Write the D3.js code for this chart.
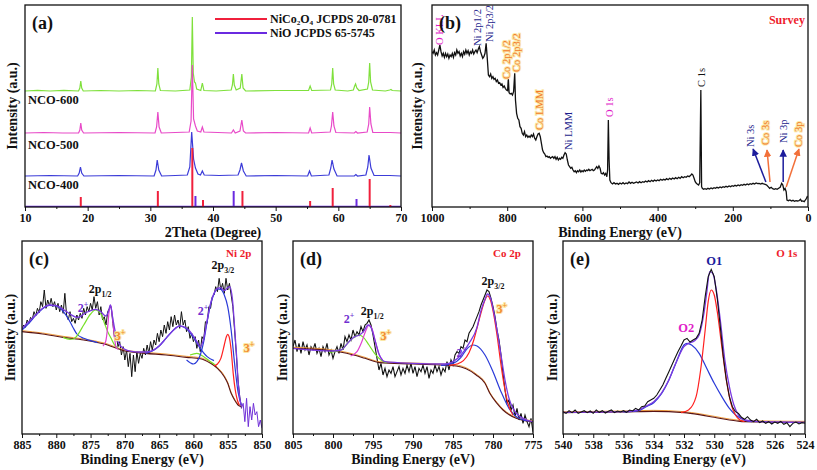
<!DOCTYPE html>
<html><head><meta charset="utf-8">
<script src="https://cdn.jsdelivr.net/npm/d3@7"></script>
<style>body{margin:0;background:#fff}</style>
</head><body>
<script>
// ---------------- DATA ----------------
// (a) XRD
const xrdTicks = [10,20,30,40,50,60,70];
const xrdMinor = [15,25,35,45,55,65];
const xrdSamples = ["NCO-600","NCO-500","NCO-400"];
const xrdOffsets = [116, 74, 31];
const xrdColors = ["#7fe03c","#e84ac8","#3c3cd8"];
const xrd600 = [[10,0],[12,0.6],[14,0],[16.2,0.6],[18.55,0],[18.75,3],[18.9,10],[19.05,3],[19.3,0],[22,0.5],[25,0],[28,0.5],[30.8,0],[31.05,7],[31.2,23],[31.35,7],[31.6,0.5],[34,0],[36.3,1],[36.55,14],[36.7,74],[36.85,18],[37.05,9],[37.2,8],[37.4,2],[38.05,0.5],[38.3,8],[38.55,0.5],[40.5,0],[42.9,1],[43.1,6],[43.25,17],[43.4,6],[43.7,1],[44.35,3],[44.6,17],[44.8,3],[45.2,0],[50,0.5],[55.25,0.5],[55.5,5],[55.75,0.5],[58.75,1],[58.95,7],[59.1,23],[59.25,7],[59.5,1],[61.5,0],[62.4,1],[62.6,5],[62.75,7],[62.95,3],[63.3,0.5],[64.65,2],[64.85,9],[65.0,28],[65.15,9],[65.45,1],[67.5,0],[68.2,1],[68.4,1.5],[68.6,0.5],[70,0]];
const xrd500 = [[10,0],[13,0.5],[16,0],[18.55,0],[18.75,3],[18.9,10],[19.05,3],[19.35,0],[25,0.5],[30.75,0],[31.0,6],[31.2,21],[31.4,6],[31.75,0],[34,0.5],[36.2,1],[36.5,12],[36.7,68],[36.9,14],[37.2,7],[37.5,2],[38.05,1],[38.3,6],[38.55,1],[42.95,0],[43.25,3],[43.55,0],[44.3,2],[44.6,13],[44.85,2],[45.2,0],[50,0.5],[55.25,0],[55.5,5],[55.75,0],[58.7,1],[58.9,7],[59.1,21],[59.3,7],[59.6,0.5],[62.55,0],[62.8,1.5],[63.05,0],[64.6,1],[64.85,9],[65.0,26],[65.2,9],[65.5,0.5],[68.3,0.5],[70,0]];
const xrd400 = [[10,0],[14,0.5],[18.4,0],[18.65,3],[18.85,9],[19.05,3],[19.4,0],[25,0.5],[30.6,0],[30.9,6],[31.1,16],[31.35,6],[31.8,0],[34,0.5],[35.9,1],[36.3,9],[36.6,44],[36.9,17],[37.2,8],[37.6,2],[38.0,1],[38.3,5],[38.6,1],[41,0.5],[44.0,1],[44.3,6],[44.55,13],[44.85,5],[45.3,0],[50,0.5],[55.1,0],[55.4,5],[55.7,0],[58.5,1],[58.8,8],[59.0,16],[59.3,7],[59.8,0],[62.55,0],[62.8,1.5],[63.05,0],[64.4,1],[64.7,9],[64.9,21],[65.2,8],[65.7,0.5],[68.2,0.5],[70,0]];
const refNiCo2O4 = [[18.9,10],[31.2,16],[36.7,59],[38.4,7],[44.7,16],[55.5,6],[59.1,19],[65.0,28],[68.3,2]];
const refNiO = [[37.2,11],[43.3,16],[62.9,8]];
const legendNames = ["NiCo₂O₄ JCPDS 20-0781", "NiO JCPDS 65-5745"];

// (b) survey
const surveyTicks = [1000,800,600,400,200,0];
const surveyMinor = [900,700,500,300,100];
const survey = [[1000,466],[997,461],[994,471],[991,456],[988,463],[985,456],[982,471],[979,486],[976,466],[973,453],[970,461],[967,449],[964,461],[961,451],[958,459],[955,446],[952,456],[949,451],[946,461],[943,449],[940,463],[937,456],[934,471],[931,461],[928,466],[925,453],[922,461],[919,451],[916,466],[913,458],[910,471],[907,461],[904,469],[901,456],[898,466],[895,461],[892,471],[889,459],[886,466],[883,471],[880,463],[877,473],[874,481],[871,466],[868,456],[865,446],[862,451],[859,461],[856,491],[853,446],[850,396],[847,391],[844,399],[841,386],[838,391],[835,383],[832,386],[829,376],[826,381],[823,371],[820,373],[817,366],[814,369],[811,359],[808,363],[805,356],[802,351],[799,349],[797,386],[795,343],[792,339],[789,341],[786,336],[783,346],[780,401],[778,321],[775,281],[772,266],[769,261],[766,241],[763,236],[760,221],[757,216],[754,226],[751,211],[748,216],[745,209],[742,213],[739,209],[736,216],[733,211],[730,219],[727,206],[724,201],[721,211],[718,219],[715,221],[712,211],[709,191],[706,171],[703,163],[700,159],[697,151],[694,153],[691,149],[688,151],[685,146],[682,149],[679,151],[676,146],[673,151],[670,143],[667,149],[664,141],[661,146],[658,143],[655,149],[652,146],[649,156],[646,163],[643,159],[640,141],[637,126],[634,121],[631,116],[628,119],[625,111],[622,106],[619,109],[616,103],[613,109],[610,106],[607,111],[604,105],[601,109],[598,106],[595,111],[592,107],[589,111],[586,109],[583,113],[580,109],[577,111],[574,113],[571,109],[568,111],[565,116],[562,121],[559,116],[556,123],[553,116],[550,101],[547,99],[544,103],[541,96],[538,101],[535,91],[533,111],[531,261],[529,141],[527,81],[524,73],[520,69],[516,73],[512,69],[508,71],[504,68],[500,72],[496,69],[492,73],[488,69],[484,72],[480,70],[476,75],[472,71],[468,74],[464,71],[460,73],[456,75],[452,72],[448,76],[444,73],[440,76],[436,74],[432,78],[428,75],[424,79],[420,76],[416,80],[412,77],[408,81],[404,78],[400,81],[396,79],[392,83],[388,80],[384,83],[380,81],[376,85],[372,82],[368,86],[364,83],[360,87],[356,84],[352,88],[348,85],[344,89],[340,86],[336,91],[332,88],[328,91],[324,89],[320,93],[316,91],[312,95],[309,99],[306,96],[303,86],[300,76],[297,71],[294,68],[291,66],[288,73],[285,351],[283,61],[281,56],[278,53],[274,55],[270,53],[266,56],[262,54],[258,57],[254,55],[250,58],[246,56],[242,59],[238,57],[234,60],[230,58],[226,61],[222,59],[218,62],[214,60],[210,63],[206,61],[202,64],[198,62],[194,65],[190,63],[186,66],[182,64],[178,67],[174,65],[170,68],[166,66],[162,69],[158,67],[154,70],[150,68],[146,71],[142,69],[138,72],[134,70],[130,71],[126,69],[122,71],[118,69],[114,68],[110,66],[106,61],[102,56],[98,59],[94,55],[90,53],[86,55],[82,53],[78,56],[74,59],[70,71],[67,66],[64,51],[61,56],[58,46],[56,21],[52,19],[48,21],[44,18],[40,20],[36,17],[32,19],[28,18],[24,19],[20,23],[17,17],[14,18],[10,16],[7,21],[4,26],[2,31],[0,29]];
const surveyLabels = [
  {t:"O KLL", at:[979,486], c:"#e01cc8"},
  {t:"Ni 2p1/2", at:[878,483], c:"#1c1c8c"},
  {t:"Ni 2p3/2", at:[848,495], c:"#1c1c8c"},
  {t:"Co 2p1/2", at:[801,384], c:"#f27a2a", glow:true},
  {t:"Co 2p3/2", at:[774,405], c:"#f27a2a", glow:true},
  {t:"Co LMM", at:[713,231], c:"#f27a2a", glow:true},
  {t:"Ni LMM", at:[638,171], c:"#1c1c8c"},
  {t:"O 1s", at:[529,270], c:"#e01cc8"},
  {t:"C 1s", at:[282,360], c:"#111"},
  {t:"Ni 3s", at:[152,180], c:"#1c1c8c"},
  {t:"Co 3s", at:[112,186], c:"#f27a2a", glow:true},
  {t:"Ni 3p", at:[66,192], c:"#1c1c8c"},
  {t:"Co 3p", at:[24,180], c:"#f27a2a", glow:true}
];
const surveyArrows = [
  {from:[112,75], to:[146,174], c:"#1c1c9c"},
  {from:[101,75], to:[109,171], c:"#f2703a"},
  {from:[66,75], to:[66,171], c:"#1c1c9c"},
  {from:[58,60], to:[24,174], c:"#f2703a"}
];

// (c) Ni 2p
const niTicks = [885,880,875,870,865,860,855,850];
const niMinor = [882.5,877.5,872.5,867.5,862.5,857.5,852.5];
const niEnergy = d3.range(885, 849.99, -0.25); // measurement grid, eV
const niCounts = [314,327,320,342,332,350,344,367,354,377,364,397,382,432,377,402,384,407,382,397,
 372,392,367,387,362,422,357,342,367,337,347,332,357,342,362,347,377,357,382,367,
 392,372,412,377,397,357,382,342,352,327,367,377,382,332,287,297,262,277,237,262,
 222,252,202,242,172,237,187,247,212,242,227,257,237,267,242,277,252,282,267,302,
 277,312,292,327,302,337,312,352,322,357,327,342,317,367,327,342,307,322,287,302,
 277,292,257,282,247,292,282,337,332,382,377,412,417,442,427,467,432,452,422,467,
 432,452,417,382,312,242,162,112,77,92,37,107,22,82,42,92,57,67,22,42,
 17];
const niEnvelope = [[885,317],[884,337],[883,357],[882,377],[881,387],[880,385],[879,374],[878,360],[877,350],[876.5,352],[876,360],[875,370],[874.3,374],[873.5,367],[872.8,354],[872.4,367],[872.1,387],[871.8,352],[871.5,317],[871,277],[870,254],[869,248],[868,246],[867,246],[866,250],[865,264],[864,287],[863,310],[862,324],[861,317],[860,294],[859.5,277],[859,262],[858.5,287],[858,342],[857.5,392],[857,422],[856.5,437],[856,439],[855.5,430],[855,439],[854.7,442],[854.3,402],[854,322],[853.7,232],[853.5,162],[853.2,102],[853,82]];
const niBackground = [[885,307],[882,300],[879,290],[876,282],[873,270],[870,249],[867,242],[864,237],[861,230],[859,226],[857.5,212],[856.5,197],[855.5,172],[855,152],[854.5,122],[854,102],[853.5,87],[853,82]];
const niComponents = [
  {c:"#2a3ad8", pts:[[885,312],[884,332],[883,356],[882,376],[881,386],[880,384],[879,368],[878,337],[877.5,317],[877,300],[876,287],[875,280],[874,274]]},
  {c:"#78e028", pts:[[879,290],[878,284],[877.5,285],[877,294],[876,327],[875,360],[874.3,372],[873.5,360],[873,334],[872.5,307],[872,287],[871.5,267],[871,257]]},
  {c:"#e040d0", pts:[[873.2,264],[872.8,277],[872.5,322],[872.3,367],[872.1,387],[871.9,367],[871.6,307],[871.3,262],[871,254]]},
  {c:"#2a3ad8", pts:[[867,242],[866,249],[865,264],[864,287],[863,310],[862,324],[861,316],[860,290],[859,257],[858,232],[857,220]]},
  {c:"#78e028", pts:[[860.5,237],[859.5,242],[858.5,232],[857.5,217],[856.8,207]]},
  {c:"#2a3ad8", pts:[[861,222],[860,210],[859.5,217],[859,237],[858.5,277],[858,337],[857.5,389],[857,420],[856.5,435],[856,434],[855.5,417],[855,382],[854.5,312],[854,212],[853.5,127],[853,87]]},
  {c:"#ff2020", pts:[[857,204],[856.5,210],[856,227],[855.5,267],[855.2,292],[855,299],[854.8,292],[854.5,252],[854.2,182],[853.9,132],[853.6,102],[853.3,87]]}
];
const niLabels = [
  {s:[["2p"],["1/2","sub"]], at:[873.6,423], c:"#111"},
  {s:[["2p"],["3/2","sub"]], at:[855.7,495], c:"#111"},
  {s:[["Ni 2p"]], at:[853.4,531], c:"#ee1c2c", size:11},
  {s:[["2"],["+","sup"]], at:[876.1,366], c:"#7030d0"},
  {s:[["3"],["+","sup"]], at:[870.7,282], c:"#f28a30", glow:true},
  {s:[["2"],["+","sup"]], at:[858.6,357], c:"#7030d0"},
  {s:[["3"],["+","sup"]], at:[851.9,246], c:"#f28a30", glow:true}
];

// (d) Co 2p
const coTicks = [805,800,795,790,785,780,775];
const coMinor = [802.5,797.5,792.5,787.5,782.5,777.5];
const coEnergy = d3.range(805, 774.99, -0.25); // measurement grid, eV
const coCounts = [262,282,247,272,242,277,252,267,237,262,252,272,242,257,232,262,247,272,237,252,
 227,247,262,242,272,252,292,277,297,282,312,292,307,297,322,307,327,332,342,327,
 297,262,227,192,212,177,197,172,192,182,202,172,187,202,177,197,182,207,187,212,
 182,202,172,197,187,207,182,202,167,192,182,207,187,202,177,197,187,217,192,222,
 207,237,247,242,262,257,282,277,302,312,322,337,352,367,387,402,417,432,427,407,
 382,352,312,282,237,182,132,92,102,72,87,52,77,42,62,32,57,37,22,47,
 7];
const coEnvelope = [[805,257],[800,249],[799,252],[798,277],[797.3,292],[796.7,297],[796.2,307],[795.6,327],[795.2,317],[794.7,277],[794.2,237],[793.5,217],[790,212],[786,210],[785,217],[784,237],[783,272],[782,320],[781.5,370],[781,404],[780.7,420],[780.3,407],[780,377],[779.5,312],[779,237],[778.5,162],[778,107],[777.5,77],[777,60],[776,44],[775,37]];
const coBackground = [[805,257],[800,249],[798.3,242],[796,227],[794.2,214],[790,210],[784.6,204],[782.1,177],[781,152],[780.4,122],[779.5,92],[778.75,72],[777.1,47],[776,40],[775,37]];
const coComponents = [
  {c:"#78e028", pts:[[800.5,245],[799,252],[798,277],[797.3,292],[796.8,297],[796.2,290],[795.5,267],[794.8,242],[794,222],[793.3,214]]},
  {c:"#e040d0", pts:[[797.8,234],[797,247],[796.4,277],[795.9,310],[795.5,327],[795.1,314],[794.7,277],[794.3,242],[793.8,222]]},
  {c:"#2a3ad8", pts:[[786.5,206],[785,212],[784,230],[783.2,257],[782.5,267],[782,264],[781,237],[780,187],[779,127],[778,77],[777,50],[776,41],[775.5,39]]},
  {c:"#ff2020", pts:[[785.5,206],[784.5,210],[783.7,220],[783,244],[782.4,282],[781.9,327],[781.4,372],[781,402],[780.7,414],[780.3,400],[780,370],[779.5,297],[779,207],[778.5,132],[778,82],[777.5,57]]}
];
const coLabels = [
  {s:[["Co 2p"]], at:[778.25,531], c:"#ee1c2c", size:11},
  {s:[["2p"],["3/2","sub"]], at:[780,447], c:"#111"},
  {s:[["3"],["+","sup"]], at:[778.9,363], c:"#f28a30", glow:true},
  {s:[["2p"],["1/2","sub"]], at:[795.1,357], c:"#111"},
  {s:[["2"],["+","sup"]], at:[798,333], c:"#7030d0"},
  {s:[["3"],["+","sup"]], at:[793.4,282], c:"#f28a30", glow:true},
  {s:[["2"],["+","sup"]], at:[783.9,231], c:"#7030d0"}
];

// (e) O 1s
const oTicks = [540,538,536,534,532,530,528,526,524];
const oMinor = [539,537,535,533,531,529,527,525];
const oEnergy = d3.range(540, 523.99, -0.2); // measurement grid, eV
const oCounts = [67,62,70,64,72,62,66,70,64,69,62,72,65,70,63,68,72,64,69,66,
 70,65,72,69,77,72,82,84,97,102,107,117,132,147,167,187,207,227,247,264,
 282,287,276,282,287,302,342,412,472,494,472,407,322,232,162,112,82,67,62,50,
 44,52,42,37,44,34,39,32,37,30,36,32,38,29,34,22,32,36,30,34,
 32];
const oEnvelope = [[540,65],[536,67],[535,72],[534.5,84],[534,97],[533.5,122],[533,162],[532.5,217],[532,262],[531.7,272],[531.3,280],[531,297],[530.7,357],[530.5,422],[530.3,487],[530.1,482],[529.9,442],[529.6,342],[529.3,222],[529,142],[528.7,87],[528.4,57],[528,42],[527,37],[524,35]];
const oBackground = [[540,64],[536,66],[534,68],[532,64],[531,58],[530,50],[529,42],[528.5,39],[528,37],[524,35]];
const oComponents = [
  {c:"#2a3ad8", pts:[[536,66],[535,70],[534.5,82],[534,94],[533.5,120],[533,162],[532.5,217],[532,267],[531.8,272],[531.5,267],[531,242],[530.5,197],[530,152],[529.5,112],[529,77],[528.5,54],[528,42],[527.5,37]]},
  {c:"#ff2020", pts:[[532.2,64],[531.7,72],[531.2,112],[530.9,192],[530.6,312],[530.4,397],[530.2,432],[530,417],[529.8,367],[529.5,262],[529.2,162],[528.9,92],[528.6,57],[528.3,42],[528,37]]}
];
const oLabels = [
  {s:[["O1"]], at:[530.0,507], c:"#1c1c9c", size:12.5},
  {s:[["O2"]], at:[531.85,306], c:"#e01cc8", size:12.5},
  {s:[["O 1s"]], at:[525.2,531], c:"#ee1c2c", size:11}
];

// ---------------- DRAWING ----------------
const FONT = "'Liberation Serif','Times New Roman',Times,serif";
const svg = d3.select("body").append("svg").attr("width",817).attr("height",470);
const defs = svg.append("defs");
["#1c1c9c","#f2703a"].forEach((c,i)=>{
  defs.append("marker").attr("id","arr"+i).attr("viewBox","0 0 10 10").attr("refX",9).attr("refY",5)
    .attr("markerWidth",5).attr("markerHeight",5).attr("orient","auto")
    .append("path").attr("d","M0,0L10,5L0,10z").attr("fill",c);
});

function rich(g, px, py, segs, o){
  const size = o.size || 12;
  const t = g.append("text").attr("x",px).attr("y",py).attr("text-anchor",o.anchor||"middle")
    .attr("fill",o.c||"#111").style("font-size",size+"px").style("font-weight",o.weight||"bold").style("font-family",FONT);
  segs.forEach(([s,kind])=>{
    const ts = t.append("tspan").text(s);
    if(kind){
      ts.style("font-size",(size*0.66)+"px")
        .attr("baseline-shift", kind==="sub" ? -(size*0.3) : size*0.45);
    }
  });
  if(o.glow) t.attr("stroke","#fbe7a6").attr("stroke-width",2.2).attr("paint-order","stroke").attr("stroke-linejoin","round");
  return t;
}

function panel(cfg){
  const x = d3.scaleLinear().domain(cfg.xDomain).range([cfg.left,cfg.right]);
  const y = d3.scaleLinear().domain(cfg.yDomain).range([cfg.bottom,cfg.top]);
  const g = svg.append("g");
  const cid = "clip-"+cfg.id;
  defs.append("clipPath").attr("id",cid).append("rect").attr("x",cfg.left).attr("y",cfg.top)
    .attr("width",cfg.right-cfg.left).attr("height",cfg.bottom-cfg.top);
  const plot = g.append("g").attr("clip-path",`url(#${cid})`);
  const ann = g.append("g");
  const ax = g.append("g").attr("transform",`translate(0,${cfg.bottom})`).attr("color","#111");
  ax.append("g").call(d3.axisBottom(x).tickValues(cfg.minor).tickSize(2).tickFormat(()=>""))
    .call(s=>s.select(".domain").remove());
  ax.append("g").call(d3.axisBottom(x).tickValues(cfg.ticks).tickSize(4).tickPadding(2).tickFormat(d3.format("d")))
    .call(s=>{s.select(".domain").remove();
      s.selectAll("text").style("font-family",FONT).style("font-weight","bold").style("font-size","12px");});
  g.append("rect").attr("x",cfg.left).attr("y",cfg.top).attr("width",cfg.right-cfg.left)
    .attr("height",cfg.bottom-cfg.top).attr("fill","none").attr("stroke","#111").attr("stroke-width",1.3);
  rich(g,(cfg.left+cfg.right)/2,cfg.bottom+30,[[cfg.xTitle]],{size:14});
  g.append("text").attr("transform",`translate(${cfg.yTitleX},${(cfg.top+cfg.bottom)/2}) rotate(-90)`)
    .attr("text-anchor","middle").attr("dominant-baseline","central").attr("fill","#111")
    .style("font-family",FONT).style("font-weight","bold").style("font-size","14px").text("Intensity (a.u.)");
  rich(g,cfg.left+7,cfg.top+24,[[cfg.letter]],{size:18,anchor:"start"});
  const line = d3.line().x(d=>x(d[0])).y(d=>y(d[1]));
  const smooth = d3.line().x(d=>x(d[0])).y(d=>y(d[1])).curve(d3.curveMonotoneX);
  return {x,y,plot,ann,line,smooth};
}

// ---- (a)
{
  const P = panel({id:"a",left:25,right:401,top:5,bottom:207,xDomain:[10,70],yDomain:[0,202],
    ticks:xrdTicks,minor:xrdMinor,xTitle:"2Theta (Degree)",yTitleX:12,letter:"(a)"});
  const series = [xrd600, xrd500, xrd400];
  series.forEach((s,i)=>{
    P.plot.append("path").attr("d",P.line(s.map(d=>[d[0],d[1]+xrdOffsets[i]])))
      .attr("fill","none").attr("stroke",xrdColors[i]).attr("stroke-width",1.2);
  });
  P.plot.append("line").attr("x1",P.x(10)).attr("x2",P.x(70)).attr("y1",P.y(0)-0.6).attr("y2",P.y(0)-0.6)
    .attr("stroke","#6a2ae0").attr("stroke-width",1.2);
  P.plot.selectAll(".nio").data(refNiO).join("line").attr("x1",d=>P.x(d[0])).attr("x2",d=>P.x(d[0]))
    .attr("y1",P.y(0)).attr("y2",d=>P.y(d[1])).attr("stroke","#6a2ae0").attr("stroke-width",2);
  P.plot.selectAll(".nco").data(refNiCo2O4).join("line").attr("x1",d=>P.x(d[0])).attr("x2",d=>P.x(d[0]))
    .attr("y1",P.y(0)).attr("y2",d=>P.y(d[1])).attr("stroke","#f0203c").attr("stroke-width",2);
  xrdSamples.forEach((s,i)=>{
    rich(P.ann,28,P.y(xrdOffsets[i])+[13,16,13][i],[[s]],{size:12.5,anchor:"start"});
  });
  const lg = P.ann.append("g");
  ["#f0203c","#6a2ae0"].forEach((c,i)=>{
    lg.append("line").attr("x1",215).attr("x2",267).attr("y1",19+i*14).attr("y2",19+i*14).attr("stroke",c).attr("stroke-width",1.8);
    rich(lg,270,23+i*14,[[legendNames[i]]],{size:12,anchor:"start"});
  });
}

// ---- (b)
{
  const P = panel({id:"b",left:432,right:808,top:5,bottom:207,xDomain:[1000,0],yDomain:[0,606],
    ticks:surveyTicks,minor:surveyMinor,xTitle:"Binding Energy (eV)",yTitleX:417,letter:"(b)"});
  P.plot.append("path").attr("d",P.line(survey)).attr("fill","none").attr("stroke","#111").attr("stroke-width",1.3);
  surveyArrows.forEach(a=>{
    P.ann.append("line").attr("x1",P.x(a.from[0])).attr("y1",P.y(a.from[1])).attr("x2",P.x(a.to[0])).attr("y2",P.y(a.to[1]))
      .attr("stroke",a.c).attr("stroke-width",1.5).attr("marker-end",`url(#arr${a.c==="#1c1c9c"?0:1})`);
  });
  surveyLabels.forEach(l=>{
    const t = P.ann.append("text").attr("transform",`translate(${P.x(l.at[0])},${P.y(l.at[1])}) rotate(-90)`)
      .attr("text-anchor","start").attr("dominant-baseline","central").attr("fill",l.c)
      .style("font-family",FONT).style("font-size","10.5px").text(l.t);
    if(l.glow) t.attr("stroke","#fbe7a6").attr("stroke-width",2).attr("paint-order","stroke");
  });
  rich(P.ann,P.x(56),P.y(549),[["Survey"]],{size:12,c:"#ee1c2c"});
}

function xps(P, energy, counts, bg, comps, env, labels, opts){
  const data = energy.map((e,i)=>[e,counts[i]]);
  const drawData = ()=>{
    if(opts.tailFrom!=null){
      P.plot.append("path").attr("d",P.line(data.slice(0,opts.tailFrom+1))).attr("fill","none").attr("stroke","#111").attr("stroke-width",1);
      P.plot.append("path").attr("d",P.line(data.slice(opts.tailFrom))).attr("fill","none").attr("stroke","#7030d8").attr("stroke-width",1);
    } else {
      P.plot.append("path").attr("d",P.line(data)).attr("fill","none").attr("stroke","#111").attr("stroke-width",1.1);
    }
  };
  if(!opts.dataLast) drawData();
  P.plot.append("path").attr("d",P.smooth(bg)).attr("fill","none").attr("stroke","#f2a040").attr("stroke-width",1).attr("transform","translate(0,-1)");
  P.plot.append("path").attr("d",P.smooth(bg)).attr("fill","none").attr("stroke","#5a1414").attr("stroke-width",1.1);
  comps.forEach(c=>P.plot.append("path").attr("d",P.smooth(c.pts)).attr("fill","none").attr("stroke",c.c).attr("stroke-width",1.2));
  P.plot.append("path").attr("d",P.smooth(env)).attr("fill","none").attr("stroke","#7a3ae0").attr("stroke-width",1.3);
  if(opts.dataLast) drawData();
  labels.forEach(l=>rich(P.ann,P.x(l.at[0]),P.y(l.at[1]),l.s,{c:l.c,size:l.size||12,glow:l.glow}));
}

// ---- (c)
{
  const P = panel({id:"c",left:22,right:262,top:241,bottom:434,xDomain:[885,850],yDomain:[0,579],
    ticks:niTicks,minor:niMinor,xTitle:"Binding Energy (eV)",yTitleX:10,letter:"(c)"});
  xps(P, niEnergy, niCounts, niBackground, niComponents, niEnvelope, niLabels, {tailFrom:128});
}
// ---- (d)
{
  const P = panel({id:"d",left:293,right:533,top:241,bottom:434,xDomain:[805,775],yDomain:[0,579],
    ticks:coTicks,minor:coMinor,xTitle:"Binding Energy (eV)",yTitleX:282,letter:"(d)"});
  xps(P, coEnergy, coCounts, coBackground, coComponents, coEnvelope, coLabels, {});
}
// ---- (e)
{
  const P = panel({id:"e",left:563,right:805,top:241,bottom:434,xDomain:[540,524],yDomain:[0,579],
    ticks:oTicks,minor:oMinor,xTitle:"Binding Energy (eV)",yTitleX:552,letter:"(e)"});
  xps(P, oEnergy, oCounts, oBackground, oComponents, oEnvelope, oLabels, {dataLast:true});
}
</script>
</body></html>
